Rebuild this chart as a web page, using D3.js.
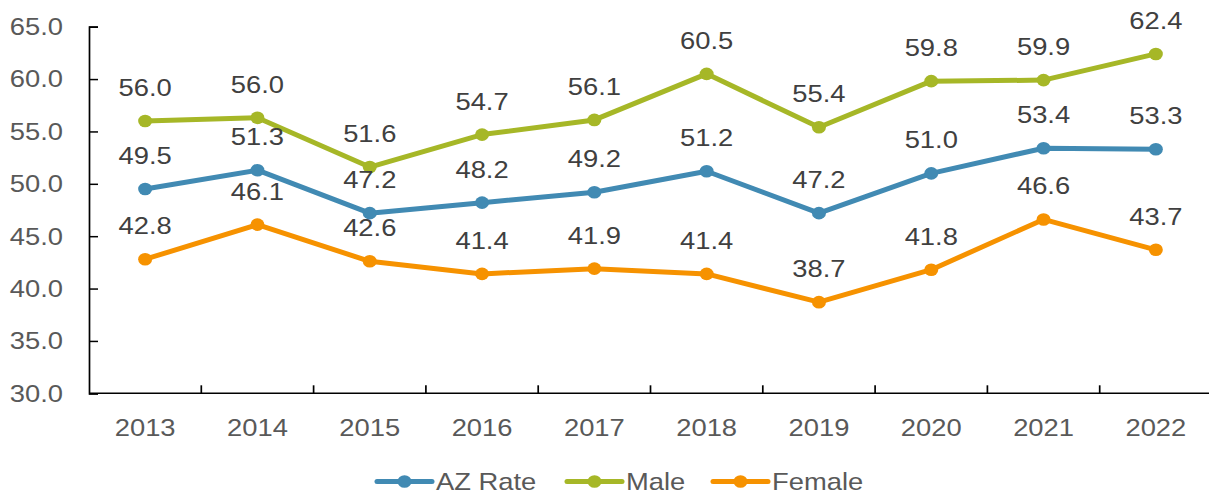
<!DOCTYPE html>
<html>
<head>
<meta charset="utf-8">
<script src="https://cdn.jsdelivr.net/npm/d3@7"></script>
<style>
  html, body { margin: 0; padding: 0; background: #fff; }
  svg { display: block; font-family: "Liberation Sans", Arial, sans-serif; }
</style>
</head>
<body>
<svg id="chart" width="1209" height="494"></svg>
<script>
const years = ["2013","2014","2015","2016","2017","2018","2019","2020","2021","2022"];
const azRate = [49.5, 51.3, 47.2, 48.2, 49.2, 51.2, 47.2, 51.0, 53.4, 53.3];
const male   = [56.0, 56.3, 51.6, 54.7, 56.1, 60.5, 55.4, 59.8, 59.9, 62.4];
const maleLabels = ["56.0","56.0","51.6","54.7","56.1","60.5","55.4","59.8","59.9","62.4"];
const female = [42.8, 46.1, 42.6, 41.4, 41.9, 41.4, 38.7, 41.8, 46.6, 43.7];
const yTicks = [30, 35, 40, 45, 50, 55, 60, 65];
const seriesNames = ["AZ Rate", "Male", "Female"];
const seriesColors = ["#418AB3", "#A6B727", "#F69200"];

const fmt = d3.format(".1f");
const series = [
  { name: seriesNames[0], values: azRate, labels: azRate.map(fmt), color: seriesColors[0] },
  { name: seriesNames[1], values: male, labels: maleLabels, color: seriesColors[1] },
  { name: seriesNames[2], values: female, labels: female.map(fmt), color: seriesColors[2] }
];

const FS = 24, SX = 1.14;
const svg = d3.select("#chart");
const plotLeft = 89, bandEnd = 1212, plotTop = 26.7, plotBottom = 393.3;

const x = d3.scaleBand().domain(years).range([plotLeft, bandEnd]).padding(0);
const y = d3.scaleLinear().domain([30, 65]).range([plotBottom, plotTop]);

function label(parent, px, py, txt, anchor, fill, dy) {
  const g = parent.append("g").attr("transform", `translate(${px},${py})`);
  g.append("text").attr("transform", `scale(${SX},1)`)
    .attr("text-anchor", anchor).attr("fill", fill).attr("font-size", FS)
    .attr("dy", dy || 0).text(txt);
  return g;
}

// Y axis
const yAxis = d3.axisRight(y).tickValues(yTicks).tickSize(9).tickFormat(() => "");
const gy = svg.append("g").attr("transform", `translate(${plotLeft},0)`).call(yAxis);
gy.select(".domain").attr("stroke", "#000").attr("stroke-width", 1.7);
gy.selectAll(".tick line").attr("stroke", "#000").attr("stroke-width", 1.5);

const gyl = svg.append("g");
yTicks.forEach(t => label(gyl, 63, y(t), fmt(t), "end", "#595959", "0.35em"));

// X axis line
svg.append("line").attr("x1", plotLeft).attr("x2", 1209).attr("y1", plotBottom).attr("y2", plotBottom)
  .attr("stroke", "#000").attr("stroke-width", 1.5);
svg.append("g").selectAll("line").data(years.slice(1)).join("line")
  .attr("x1", d => x(d)).attr("x2", d => x(d))
  .attr("y1", plotBottom).attr("y2", plotBottom - 8)
  .attr("stroke", "#000").attr("stroke-width", 1.7);
const gxl = svg.append("g");
years.forEach(yr => label(gxl, x(yr) + x.bandwidth() / 2, 436, yr, "middle", "#595959"));

const cx = (d, i) => x(years[i]) + x.bandwidth() / 2;
const line = d3.line().x((d, i) => cx(d, i)).y(d => y(d));

series.forEach(s => {
  const g = svg.append("g");
  g.append("path").datum(s.values).attr("d", line)
    .attr("fill", "none").attr("stroke", s.color).attr("stroke-width", 5)
    .attr("stroke-linejoin", "round").attr("stroke-linecap", "round");
  g.selectAll("ellipse").data(s.values).join("ellipse")
    .attr("cx", cx).attr("cy", d => y(d)).attr("rx", 7).attr("ry", 6.3).attr("fill", s.color);
});

series.forEach(s => {
  const g = svg.append("g");
  s.values.forEach((v, i) => label(g, cx(v, i), y(v) - 25, s.labels[i], "middle", "#404040"));
});

// Legend
const legendX = [377, 567, 713];
const lg = svg.append("g");
series.forEach((s, i) => {
  const g = lg.append("g").attr("transform", `translate(${legendX[i]},481.5)`);
  g.append("line").attr("x1", 0).attr("x2", 55).attr("y1", 0).attr("y2", 0)
    .attr("stroke", s.color).attr("stroke-width", 5).attr("stroke-linecap", "round");
  g.append("ellipse").attr("cx", 27.5).attr("cy", 0).attr("rx", 7).attr("ry", 6.3).attr("fill", s.color);
  label(g, 59, 0, s.name, "start", "#595959", "0.35em");
});
</script>
</body>
</html>
